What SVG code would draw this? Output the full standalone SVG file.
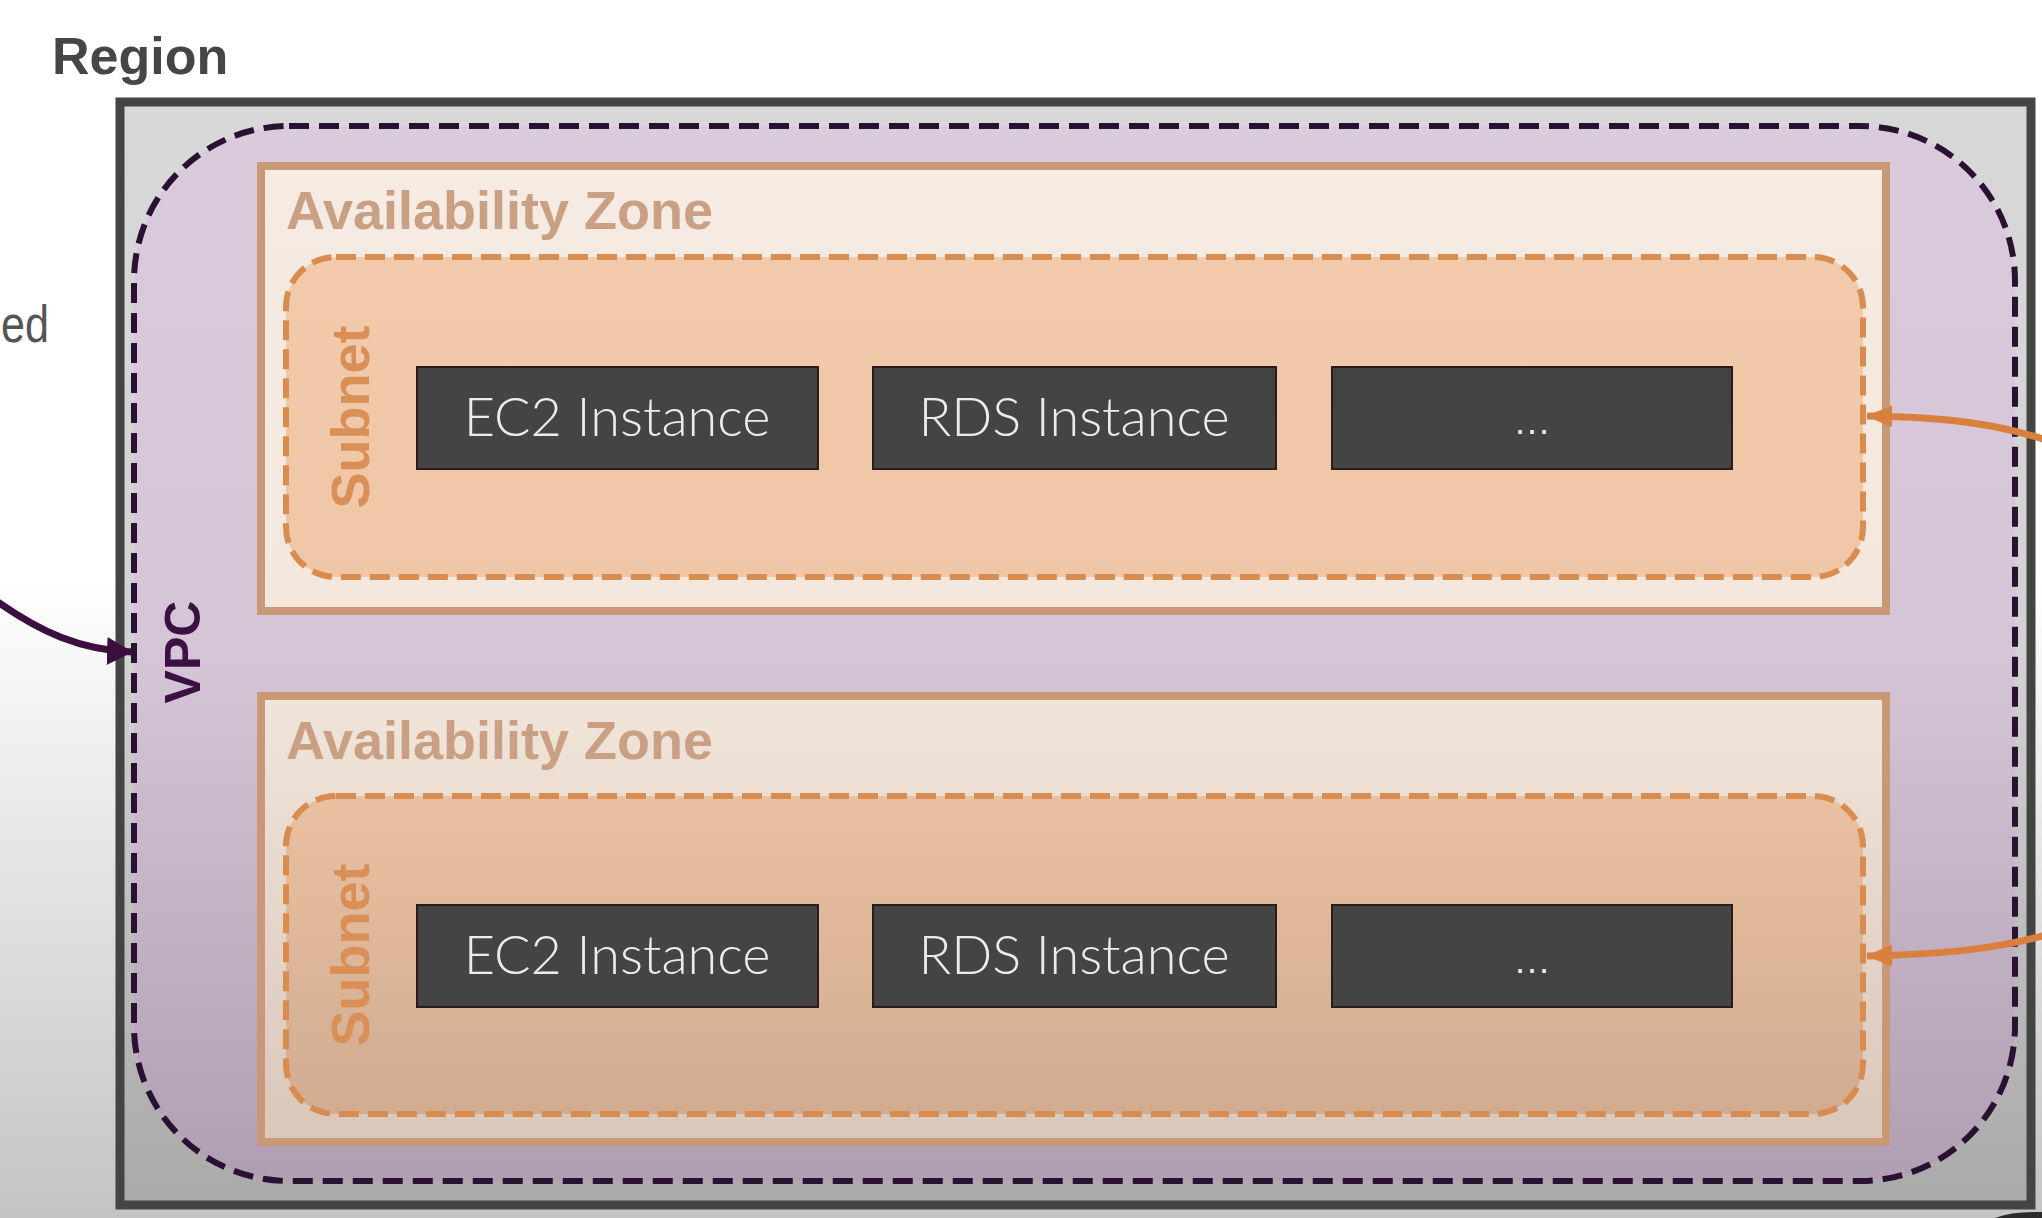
<svg xmlns="http://www.w3.org/2000/svg" width="2042" height="1218" viewBox="0 0 2042 1218">
  <defs>
    <linearGradient id="gBg" x1="0" y1="0" x2="0" y2="1218" gradientUnits="userSpaceOnUse">
      <stop offset="0" stop-color="#ffffff"/>
      <stop offset="0.47" stop-color="#ffffff"/>
      <stop offset="1" stop-color="#c4c4c4"/>
    </linearGradient>
    <linearGradient id="gRegion" x1="0" y1="100" x2="0" y2="1210" gradientUnits="userSpaceOnUse">
      <stop offset="0" stop-color="#d8d8d8"/>
      <stop offset="0.5" stop-color="#d2d2d2"/>
      <stop offset="1" stop-color="#a9a9a9"/>
    </linearGradient>
    <linearGradient id="gVpc" x1="0" y1="126" x2="0" y2="1182" gradientUnits="userSpaceOnUse">
      <stop offset="0" stop-color="#dacbdc"/>
      <stop offset="0.5" stop-color="#d5c5d7"/>
      <stop offset="1" stop-color="#b09fb2"/>
    </linearGradient>
    <linearGradient id="gAz" x1="0" y1="160" x2="0" y2="1146" gradientUnits="userSpaceOnUse">
      <stop offset="0" stop-color="#f5ebe2"/>
      <stop offset="0.5" stop-color="#f3e7dd"/>
      <stop offset="1" stop-color="#d9c7b9"/>
    </linearGradient>
    <linearGradient id="gSub" x1="0" y1="257" x2="0" y2="1114" gradientUnits="userSpaceOnUse">
      <stop offset="0" stop-color="#f1caab"/>
      <stop offset="0.55" stop-color="#eec5a4"/>
      <stop offset="1" stop-color="#d1ac91"/>
    </linearGradient>
    <marker id="arrOrange" viewBox="0 0 26 22" refX="25" refY="11" markerWidth="26" markerHeight="22" markerUnits="userSpaceOnUse" orient="auto">
      <path d="M0,0 L26,11 L0,22 Z" fill="#d9803f"/>
    </marker>
    <marker id="arrPurple" viewBox="0 0 26 28" refX="25" refY="14" markerWidth="26" markerHeight="28" markerUnits="userSpaceOnUse" orient="auto">
      <path d="M0,0 L26,14 L0,28 Z" fill="#3b1040"/>
    </marker>
    <style>
      .region { fill: url(#gRegion); stroke: #444444; stroke-width: 9; }
      .vpc { fill: url(#gVpc); stroke: #2a1032; stroke-width: 6; stroke-dasharray: 20 10; }
      .az { fill: url(#gAz); stroke: #c99877; stroke-width: 8; }
      .subnet { fill: url(#gSub); stroke: #d98c50; stroke-width: 6; stroke-dasharray: 20 9; }
      .inst { fill: #444444; stroke: #2b1b1d; stroke-width: 2; }
      .instText { font-family: "Lato", "Liberation Sans", sans-serif; font-weight: 300; font-size: 54px; fill: #ececec; text-anchor: middle; }
      .dots { font-family: "Liberation Sans", sans-serif; font-size: 36px; fill: #ececec; text-anchor: middle; letter-spacing: 2px; }
      .azText { font-family: "Liberation Sans", sans-serif; font-weight: bold; font-size: 54px; fill: #c9a084; }
      .subText { font-family: "Liberation Sans", sans-serif; font-weight: bold; font-size: 54px; fill: #d98f55; text-anchor: middle; }
      .vpcText { font-family: "Liberation Sans", sans-serif; font-weight: bold; font-size: 50px; fill: #3a1242; text-anchor: middle; }
      .title { font-family: "Liberation Sans", sans-serif; font-weight: bold; font-size: 52px; fill: #464646; }
      .side { font-family: "Liberation Sans", sans-serif; font-size: 52px; fill: #555555; }
    </style>
  </defs>

  <rect x="0" y="0" width="2042" height="1218" fill="url(#gBg)"/>

  <g id="side-text">
    <text class="side" x="1" y="342" textLength="48" lengthAdjust="spacingAndGlyphs">ed</text>
  </g>

  <g id="region">
    <text class="title" x="52" y="74">Region</text>
    <rect class="region" x="120" y="102" width="1911" height="1103"/>
  </g>

  <g id="vpc">
    <rect class="vpc" x="134" y="126" width="1881" height="1055" rx="155" ry="155"/>
    <text class="vpcText" transform="translate(200 652) rotate(-90)" x="0" y="0">VPC</text>
  </g>

  <g id="az1">
    <rect class="az" x="261" y="166" width="1625" height="445"/>
    <text class="azText" x="286" y="229">Availability Zone</text>
  </g>
  <g id="subnet1">
    <rect class="subnet" x="286" y="257" width="1577" height="320" rx="50" ry="50"/>
    <text class="subText" transform="translate(369 417) rotate(-90)" x="0" y="0">Subnet</text>
  </g>
  <g id="ec2-1">
    <rect class="inst" x="417" y="367" width="401" height="102"/>
    <text class="instText" x="617" y="436">EC2 Instance</text>
  </g>
  <g id="rds-1">
    <rect class="inst" x="873" y="367" width="403" height="102"/>
    <text class="instText" x="1074" y="436">RDS Instance</text>
  </g>
  <g id="more-1">
    <rect class="inst" x="1332" y="367" width="400" height="102"/>
    <text class="dots" x="1533" y="434">...</text>
  </g>

  <g id="az2">
    <rect class="az" x="261" y="696" width="1625" height="446"/>
    <text class="azText" x="286" y="759">Availability Zone</text>
  </g>
  <g id="subnet2">
    <rect class="subnet" x="286" y="796" width="1577" height="318" rx="50" ry="50"/>
    <text class="subText" transform="translate(369 955) rotate(-90)" x="0" y="0">Subnet</text>
  </g>
  <g id="ec2-2">
    <rect class="inst" x="417" y="905" width="401" height="102"/>
    <text class="instText" x="617" y="974">EC2 Instance</text>
  </g>
  <g id="rds-2">
    <rect class="inst" x="873" y="905" width="403" height="102"/>
    <text class="instText" x="1074" y="974">RDS Instance</text>
  </g>
  <g id="more-2">
    <rect class="inst" x="1332" y="905" width="400" height="102"/>
    <text class="dots" x="1533" y="973">...</text>
  </g>

  <g id="connectors" fill="none">
    <path d="M -5 600 C 40 632, 80 650, 132 652" stroke="#3b1040" stroke-width="7" marker-end="url(#arrPurple)"/>
    <path d="M 2046 440 C 2000 425, 1950 417, 1867 416" stroke="#d9803f" stroke-width="7" marker-end="url(#arrOrange)"/>
    <path d="M 2046 935 C 2000 948, 1950 954, 1867 956" stroke="#d9803f" stroke-width="7" marker-end="url(#arrOrange)"/>
  </g>

  <path d="M 1995 1218 Q 2012 1211 2042 1212 L 2042 1218 Z" fill="#2a2a2a"/>
</svg>
